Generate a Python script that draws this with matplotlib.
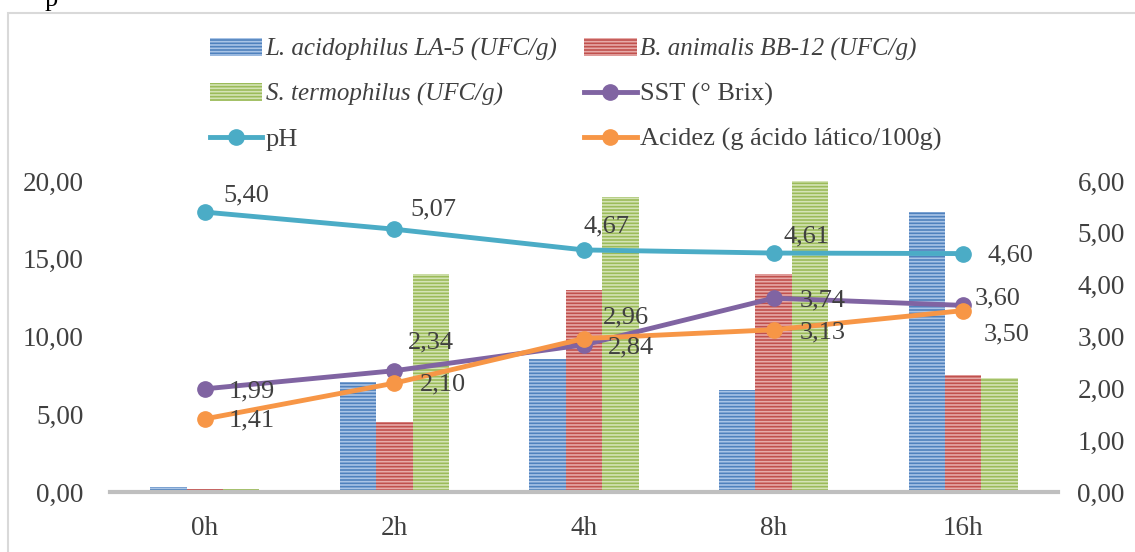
import numpy as np
import matplotlib
matplotlib.use("Agg")
import matplotlib.pyplot as plt
from matplotlib.ticker import FuncFormatter
from matplotlib.patches import Rectangle

plt.rcParams['font.family'] = ['Liberation Serif', 'DejaVu Serif']
plt.rcParams['hatch.linewidth'] = 1.2

# categories and series
tempos = ["0h", "2h", "4h", "8h", "16h"]
la5 = [0.32, 7.1, 8.55, 6.55, 18.0]
bb12 = [0.22, 4.5, 13.0, 14.0, 7.55]
termo = [0.22, 14.0, 19.0, 20.0, 7.3]
ph = [5.40, 5.07, 4.67, 4.61, 4.60]
sst = [1.99, 2.34, 2.84, 3.74, 3.60]
acidez = [1.41, 2.10, 2.96, 3.13, 3.50]

# label offsets in points (dx, dy)
ph_off = [(30, 12), (28, 14), (16, 17), (24, 12), (34, -1)]
sst_off = [(34, -2), (26, 20), (34, -2), (35, -2), (25, 5)]
ac_off = [(34, -1), (35, -1), (30, 15), (35, -2), (31, -17)]

txt = "#404040"
fmt = lambda v: f"{v:.2f}".replace(".", ",")

fig = plt.figure(figsize=(11.35, 5.52), dpi=100)
ax = fig.add_axes([110 / 1135, 60 / 552, 948 / 1135, 311 / 552])
ax2 = ax.twinx()

x = np.arange(len(tempos))
w = 0.192
b1 = ax.bar(x - w, la5, w, color="#4F81BD", edgecolor="#A9C4E6", hatch="-----", linewidth=0, label="L. acidophilus LA-5 (UFC/g)")
b2 = ax.bar(x, bb12, w, color="#C0504D", edgecolor="#E6AAA8", hatch="-----", linewidth=0, label="B. animalis BB-12 (UFC/g)")
b3 = ax.bar(x + w, termo, w, color="#9BBB59", edgecolor="#D4E3B5", hatch="-----", linewidth=0, label="S. termophilus (UFC/g)")

l_sst, = ax2.plot(x, sst, color="#8064A2", lw=3.5, marker="o", ms=11, label="SST (° Brix)")
l_ph, = ax2.plot(x, ph, color="#4BACC6", lw=3.5, marker="o", ms=11, label="pH")
l_ac, = ax2.plot(x, acidez, color="#F79646", lw=3.5, marker="o", ms=11, label="Acidez (g ácido lático/100g)")

for serie, offs in ((ph, ph_off), (sst, sst_off), (acidez, ac_off)):
    for xi, v, (dx, dy) in zip(x, serie, offs):
        ax2.annotate(fmt(v), (xi, v), xytext=(dx, dy), textcoords="offset points",
                     ha="center", va="center", fontsize=19, color=txt)

ax.set_xlim(-0.5, 4.5)
ax.set_ylim(0, 20)
ax2.set_ylim(0, 6)
ax.set_yticks([0, 5, 10, 15, 20])
ax2.set_yticks([0, 1, 2, 3, 4, 5, 6])
ax.set_xticks(x)
ax.set_xticklabels(tempos)
ax.yaxis.set_major_formatter(FuncFormatter(lambda v, p: fmt(v)))
ax2.yaxis.set_major_formatter(FuncFormatter(lambda v, p: fmt(v)))

for a in (ax, ax2):
    for s in ("top", "left", "right", "bottom"):
        a.spines[s].set_visible(False)
    a.tick_params(length=0, labelsize=19.5, labelcolor=txt)
ax.tick_params(axis="y", pad=19)
ax2.tick_params(axis="y", pad=14)
ax.tick_params(axis="x", pad=17)
ax.axhline(0, color="#BFBFBF", lw=3, zorder=5, clip_on=False)

handles = [b1, b3, l_ph, b2, l_sst, l_ac]
leg = fig.legend(handles=handles, labels=[h.get_label() for h in handles], ncol=2,
                 loc="upper left", bbox_to_anchor=(199 / 1135, 1 - 27 / 552),
                 frameon=False, fontsize=19, handlelength=2.0, handletextpad=0.12,
                 columnspacing=1.0, labelspacing=0.8, borderaxespad=0)
for t in leg.get_texts():
    t.set_color(txt)
for i in (0, 1, 3):
    leg.get_texts()[i].set_fontstyle("italic")
    leg.get_texts()[i].set_fontsize(18)

# outer frame and clipped text from page
fig.patches.append(Rectangle((8 / 1135, -0.1), 1.2, 1 - 13 / 552 + 0.1, transform=fig.transFigure,
                             fill=False, edgecolor="#D9D9D9", lw=1.5))
fig.text(45 / 1135, 1.0, "p", fontsize=19, color="black", va="center")

fig.savefig("out.png", dpi=100)
